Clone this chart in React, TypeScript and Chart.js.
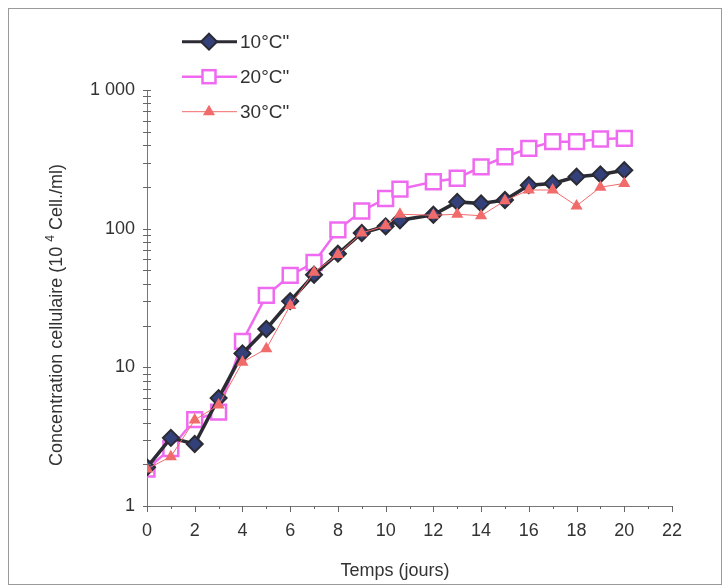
import React, { useEffect, useRef } from 'react';
import { Chart, registerables } from 'chart.js';

Chart.register(...registerables);

// ---- data ----
const days = [0, 1, 2, 3, 4, 5, 6, 7, 8, 9, 10, 10.6, 12, 13, 14, 15, 16, 17, 18, 19, 20];
const temp10 = [1.9, 3.1, 2.8, 6.0, 12.6, 18.9, 30, 46.5, 66, 93, 104, 115, 126, 156, 152, 161, 206, 212, 237, 246, 264];
const temp20 = [1.85, 2.6, 4.2, 4.75, 15.4, 33, 46, 57, 98, 134, 165, 193, 218, 231, 279, 330, 379, 424, 424, 443, 448];
const temp30 = [1.85, 2.27, 4.17, 5.35, 10.9, 13.6, 27.9, 48.5, 65, 93, 105, 127, 125, 127, 124, 159, 190, 190, 146, 199, 212];
const seriesLabels = ['10°C"', '20°C"', '30°C"'];
const xTicks = [0, 2, 4, 6, 8, 10, 12, 14, 16, 18, 20, 22];
const yTicks = [1, 10, 100, 1000];
const xTitle = 'Temps (jours)';
const yTitleA = 'Concentration cellulaire (10 ';
const yTitleSup = '4';
const yTitleB = ' Cell./ml)';

const FONT = '"Liberation Sans", Arial, sans-serif';
const TEXT = '#333333';
const C10_LINE = '#2b2b33';
const C10_FILL = '#34407a';
const C20 = '#ef6af0';
const C30 = '#f26b6b';

function drawMarker(ctx: CanvasRenderingContext2D, kind: string, x: number, y: number) {
  ctx.save();
  if (kind === 'diamond') {
    const r = 8;
    ctx.beginPath();
    ctx.moveTo(x, y - r); ctx.lineTo(x + r, y); ctx.lineTo(x, y + r); ctx.lineTo(x - r, y); ctx.closePath();
    ctx.fillStyle = C10_FILL; ctx.fill();
    ctx.strokeStyle = C10_LINE; ctx.lineWidth = 2; ctx.stroke();
  } else if (kind === 'square') {
    const s = 13;
    ctx.fillStyle = '#ffffff';
    ctx.fillRect(x - s / 2, y - s / 2, s, s);
    ctx.strokeStyle = C20; ctx.lineWidth = 2.5;
    ctx.strokeRect(x - s / 2, y - s / 2, s, s);
  } else {
    const r = 7;
    ctx.beginPath();
    ctx.moveTo(x, y - r);
    ctx.lineTo(x + r * 0.866, y + r / 2);
    ctx.lineTo(x - r * 0.866, y + r / 2);
    ctx.closePath();
    ctx.fillStyle = C30; ctx.fill();
  }
  ctx.restore();
}

const decor = {
  id: 'decor',
  afterDraw(chart: any) {
    const ctx: CanvasRenderingContext2D = chart.ctx;
    const { left, bottom } = chart.chartArea;
    const xs = chart.scales.x;
    const ys = chart.scales.y;
    ctx.save();
    // outer frame
    ctx.strokeStyle = '#9a9a9a';
    ctx.lineWidth = 1;
    ctx.strokeRect(8.5, 8.5, 713, 576);
    // y ticks (log minor + major), crossing the axis
    ctx.strokeStyle = '#666666';
    ctx.beginPath();
    for (let e = 0; e < 3; e++) {
      for (let k = 1; k < 10; k++) {
        const y = Math.round(ys.getPixelForValue(k * Math.pow(10, e))) + 0.5;
        ctx.moveTo(left - 4, y); ctx.lineTo(left + 4, y);
      }
    }
    const yTop = Math.round(ys.getPixelForValue(1000)) + 0.5;
    ctx.moveTo(left - 4, yTop); ctx.lineTo(left + 4, yTop);
    // x ticks
    for (let d = 0; d <= 22; d++) {
      const x = Math.round(xs.getPixelForValue(d)) + 0.5;
      ctx.moveTo(x, bottom); ctx.lineTo(x, bottom + (d % 2 === 0 ? 6 : 3));
    }
    ctx.stroke();

    // axis titles
    ctx.fillStyle = TEXT;
    ctx.font = `18px ${FONT}`;
    ctx.textAlign = 'center';
    ctx.textBaseline = 'middle';
    ctx.fillText(xTitle, 395, 571);

    ctx.save();
    ctx.translate(57, 315);
    ctx.rotate(-Math.PI / 2);
    ctx.font = `18px ${FONT}`;
    const wA = ctx.measureText(yTitleA).width;
    const wB = ctx.measureText(yTitleB).width;
    ctx.font = `12px ${FONT}`;
    const wS = ctx.measureText(yTitleSup).width;
    const start = -(wA + wS + wB) / 2;
    ctx.textAlign = 'left';
    ctx.font = `18px ${FONT}`;
    ctx.fillText(yTitleA, start, 0);
    ctx.font = `12px ${FONT}`;
    ctx.fillText(yTitleSup, start + wA, -6);
    ctx.font = `18px ${FONT}`;
    ctx.fillText(yTitleB, start + wA + wS, 0);
    ctx.restore();

    // legend
    const rows = [41.7, 76.7, 111.7];
    const kinds = ['diamond', 'square', 'triangle'];
    const lineColors = [C10_LINE, C20, C30];
    const lineWidths = [3, 2.5, 1];
    for (let i = 0; i < 3; i++) {
      const y = rows[i];
      ctx.beginPath();
      ctx.strokeStyle = lineColors[i];
      ctx.lineWidth = lineWidths[i];
      ctx.moveTo(182, y); ctx.lineTo(237, y);
      ctx.stroke();
      drawMarker(ctx, kinds[i], 209, y);
      ctx.fillStyle = TEXT;
      ctx.font = `19px ${FONT}`;
      ctx.textAlign = 'left';
      ctx.textBaseline = 'middle';
      ctx.fillText(seriesLabels[i], 240, y + 1);
    }
    ctx.restore();
  },
};

export default function App() {
  const ref = useRef<HTMLCanvasElement | null>(null);
  useEffect(() => {
    document.body.style.margin = '0';
    const canvas = ref.current;
    if (!canvas) return;
    const tickFont = { family: FONT, size: 18 };
    const chart = new Chart(canvas, {
      type: 'line',
      data: {
        datasets: [
          {
            label: seriesLabels[0],
            data: days.map((d, i) => ({ x: d, y: temp10[i] })),
            borderColor: C10_LINE,
            borderWidth: 3.5,
            pointStyle: 'rectRot',
            pointRadius: 8,
            pointBackgroundColor: C10_FILL,
            pointBorderColor: C10_LINE,
            pointBorderWidth: 2,
            order: 1,
          },
          {
            label: seriesLabels[1],
            data: days.map((d, i) => ({ x: d, y: temp20[i] })),
            borderColor: C20,
            borderWidth: 2.5,
            pointStyle: 'rect',
            pointRadius: 10.5,
            pointBackgroundColor: '#ffffff',
            pointBorderColor: C20,
            pointBorderWidth: 2.5,
            order: 2,
          },
          {
            label: seriesLabels[2],
            data: days.map((d, i) => ({ x: d, y: temp30[i] })),
            borderColor: C30,
            borderWidth: 1,
            pointStyle: 'triangle',
            pointRadius: 7,
            pointBackgroundColor: C30,
            pointBorderColor: C30,
            pointBorderWidth: 0,
            order: 0,
          },
        ],
      },
      options: {
        responsive: false,
        animation: false,
        devicePixelRatio: 1,
        layout: { padding: { top: 90, right: 51, left: 0, bottom: 0 } },
        plugins: { legend: { display: false }, tooltip: { enabled: false } },
        scales: {
          x: {
            type: 'linear',
            min: 0,
            max: 22,
            afterBuildTicks: (s: any) => { s.ticks = xTicks.map((v) => ({ value: v })); },
            afterFit: (s: any) => { s.height = 80; },
            grid: { display: false, drawTicks: false },
            border: { display: true, color: '#777777', width: 1 },
            ticks: { font: tickFont, color: TEXT, padding: 14, maxRotation: 0, autoSkip: false },
          },
          y: {
            type: 'logarithmic',
            min: 1,
            max: 1000,
            afterBuildTicks: (s: any) => { s.ticks = yTicks.map((v) => ({ value: v })); },
            afterFit: (s: any) => { s.width = 147; },
            grid: { display: false, drawTicks: false },
            border: { display: true, color: '#777777', width: 1 },
            ticks: {
              font: tickFont,
              color: TEXT,
              padding: 12,
              autoSkip: false,
              callback: (v: any) => (Number(v) === 1000 ? '1 000' : String(v)),
            },
          },
        },
      },
      plugins: [decor],
    } as any);
    return () => chart.destroy();
  }, []);
  return (
    <div style={{ width: 723, height: 586 }}>
      <canvas ref={ref} width={723} height={586} style={{ display: 'block' }} />
    </div>
  );
}
